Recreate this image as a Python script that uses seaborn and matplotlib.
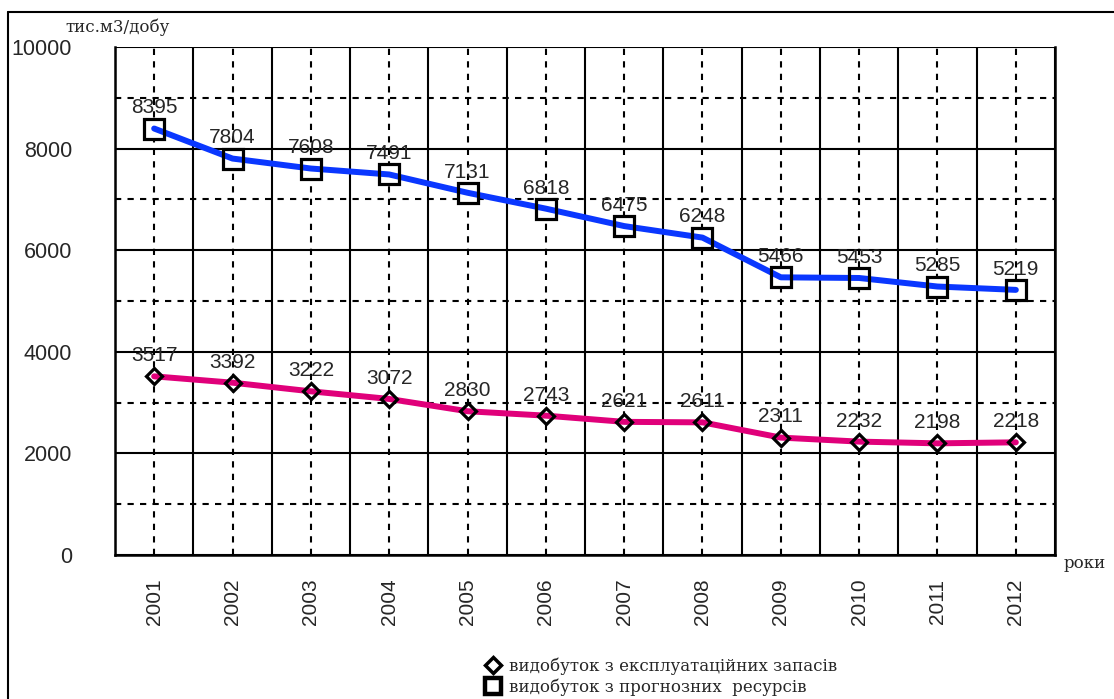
import numpy as np
import pandas as pd
import seaborn as sns
import matplotlib.pyplot as plt
from matplotlib.lines import Line2D
from matplotlib.ticker import MultipleLocator

years = ['2001', '2002', '2003', '2004', '2005', '2006',
         '2007', '2008', '2009', '2010', '2011', '2012']
resources = [8395, 7804, 7608, 7491, 7131, 6818, 6475, 6248, 5466, 5453, 5285, 5219]
reserves = [3517, 3392, 3222, 3072, 2830, 2743, 2621, 2611, 2311, 2232, 2198, 2218]

label_reserves = 'видобуток з експлуатаційних запасів'
label_resources = 'видобуток з прогнозних  ресурсів'

blue = '#0a37ff'
pink = '#e0007a'

df = pd.DataFrame({'pos': np.arange(len(years)), 'resources': resources, 'reserves': reserves})

sns.set_style('white')
plt.rcParams['font.family'] = ['Liberation Sans', 'DejaVu Sans']
serif = ['DejaVu Serif', 'Liberation Serif']

fig = plt.figure(figsize=(11.14, 6.99), dpi=100)
ax = fig.add_axes([115 / 1114, 1 - 555 / 699, 940 / 1114, 508 / 699])

for col, color, mk, ms in [('resources', blue, 's', 14), ('reserves', pink, 'D', 8.5)]:
    # white fill under the line, black outline on top
    ax.plot(df['pos'], df[col], ls='none', marker=mk, ms=ms, mfc='white', mec='white', zorder=3)
    sns.lineplot(data=df, x='pos', y=col, color=color, lw=4.3, ax=ax, zorder=4)
    ax.plot(df['pos'], df[col], ls='none', marker=mk, ms=ms, mfc='none', mec='black', mew=2.3, zorder=5)
    for x, v in zip(df['pos'], df[col]):
        ax.annotate(str(v), (x, v), xytext=(0, 8), textcoords='offset points',
                    ha='center', va='bottom', fontsize=15, zorder=6)

ax.set_xlim(-0.5, len(years) - 0.5)
ax.set_ylim(0, 10000)
ax.set_xticks(np.arange(len(years)))
ax.set_xticklabels(years, rotation=90, fontsize=15)
ax.set_xticks(np.arange(len(years) + 1) - 0.5, minor=True)
ax.yaxis.set_major_locator(MultipleLocator(2000))
ax.yaxis.set_minor_locator(MultipleLocator(1000))
ax.set_yticklabels([f'{int(t)}' for t in ax.get_yticks()], fontsize=15.5)
ax.set_xlabel('')
ax.set_ylabel('')

ax.tick_params(axis='x', which='major', direction='out', length=4, width=1.5, pad=13, color='black')
ax.tick_params(axis='x', which='minor', direction='out', length=10, width=1.8, color='black')
ax.tick_params(axis='y', which='major', direction='out', length=20, width=1.8, pad=11, color='black')
ax.tick_params(axis='y', which='minor', direction='out', length=12, width=1.5, color='black')

ax.grid(False)
ax.xaxis.grid(True, which='minor', color='black', lw=1.5, ls='-')
ax.xaxis.grid(True, which='major', color='black', lw=1.5, ls=(0, (3, 3)))
ax.yaxis.grid(True, which='major', color='black', lw=1.5, ls='-')
ax.yaxis.grid(True, which='minor', color='black', lw=1.5, ls=(0, (3, 3)))
ax.set_axisbelow(True)
for s in ['left', 'bottom', 'right']:
    ax.spines[s].set_visible(True)
    ax.spines[s].set_color('black')
    ax.spines[s].set_linewidth(1.8)
ax.spines['top'].set_visible(False)

fig.text(65 / 1114, 1 - 27 / 699, 'тис.м3/добу', family=serif,
         fontsize=12, va='center', ha='left')
fig.text(1064 / 1114, 1 - 563 / 699, 'роки', family=serif,
         fontsize=12, va='center', ha='left')

handles = [
    Line2D([], [], ls='none', marker='D', ms=8, mfc='white', mec='black', mew=2.5),
    Line2D([], [], ls='none', marker='s', ms=12, mfc='white', mec='black', mew=3.2),
]
fig.legend(handles, [label_reserves, label_resources], loc='upper left',
           bbox_to_anchor=(477 / 1114, 1 - 649 / 699), frameon=False,
           prop={'family': serif, 'size': 12},
           handlelength=0.9, handletextpad=0.5, labelspacing=0.2, borderpad=0)

# outer frame
fig.add_artist(Line2D([8 / 1114, 8 / 1114], [0, 1 - 12 / 699], color='black', lw=1.5))
fig.add_artist(Line2D([8 / 1114, 1], [1 - 12 / 699, 1 - 12 / 699], color='black', lw=1.5))

fig.savefig('out.png', dpi=100)
